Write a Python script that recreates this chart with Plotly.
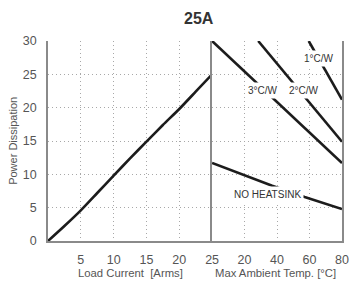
import plotly.graph_objects as go

# Left panel: power dissipation vs load current
load_current = [0, 2.5, 5, 7.5, 10, 12.5, 15, 17.5, 20, 22.5, 25]
power_diss = [0, 2.25, 4.6, 7.2, 9.8, 12.4, 14.9, 17.4, 19.8, 22.4, 25.0]

# Right panel: derating lines vs max ambient temperature
temp_3cw = [0, 80]
pow_3cw = [30, 11.7]
temp_2cw = [28.4, 80]
pow_2cw = [30, 14.9]
temp_1cw = [59.5, 80]
pow_1cw = [30, 21.2]
temp_nohs = [0, 37, 57, 80]
pow_nohs = [11.7, 8.3, 6.6, 4.8]

left_ticks = [5, 10, 15, 20, 25]
right_ticks = [20, 40, 60, 80]
y_ticks = [0, 5, 10, 15, 20, 25, 30]

FONT = "Liberation Sans, Arial, sans-serif"
LINE = "#1c1c1c"
AX = "#8a8a8a"
GRID = "#a8a8a8"
TICKC = "#555555"
DOT = "1px,3px"

fig = go.Figure()
fig.add_trace(go.Scatter(x=load_current, y=power_diss, mode="lines",
                         line=dict(color=LINE, width=2.6, shape="spline", smoothing=0.6),
                         xaxis="x", yaxis="y", showlegend=False, hoverinfo="skip"))
for tx, py in [(temp_3cw, pow_3cw), (temp_2cw, pow_2cw), (temp_1cw, pow_1cw), (temp_nohs, pow_nohs)]:
    fig.add_trace(go.Scatter(x=tx, y=py, mode="lines",
                             line=dict(color=LINE, width=2.6), xaxis="x2", yaxis="y2",
                             showlegend=False, hoverinfo="skip"))

split = (216 - 48) / (349 - 48)

common_y = dict(range=[0, 30], tickvals=y_ticks, showgrid=True, gridcolor=GRID,
                griddash=DOT, gridwidth=1, zeroline=False)

fig.update_layout(
    width=355, height=286,
    margin=dict(l=48, r=6, t=41, b=45),
    paper_bgcolor="white", plot_bgcolor="white",
    font=dict(family=FONT, color=TICKC, size=12.5),
    xaxis=dict(domain=[0, split], range=[0, 25], tickvals=left_ticks,
               showgrid=True, gridcolor=GRID, griddash=DOT, gridwidth=1,
               zeroline=False, showline=True, linecolor=AX, linewidth=1.5,
               ticks="", ticklabelstandoff=6, anchor="y"),
    yaxis=dict(domain=[0, 1], showline=True, linecolor=AX, linewidth=1.5,
               ticks="", ticklabelstandoff=7, anchor="x", **common_y),
    xaxis2=dict(domain=[split, 1], range=[0, 80], tickvals=right_ticks,
                showgrid=True, gridcolor=GRID, griddash=DOT, gridwidth=1,
                zeroline=False, showline=True, linecolor=AX, linewidth=1.5,
                ticks="", ticklabelstandoff=6, anchor="y2"),
    yaxis2=dict(domain=[0, 1], showline=True, linecolor=AX, linewidth=1.5,
                mirror=True, showticklabels=False, ticks="", anchor="x2",
                **common_y),
)

fig.add_annotation(text="<b>25A</b>", xref="paper", yref="paper",
                   x=(203 - 48) / 301, y=1 + (41 - 18) / 200, showarrow=False,
                   font=dict(size=16, color="#333333", family=FONT),
                   xanchor="center", yanchor="middle")
fig.add_annotation(text="Power Dissipation", xref="paper", yref="paper",
                   x=(12 - 48) / 301, y=(241 - 141) / 200, textangle=-90,
                   showarrow=False, font=dict(size=11, color="#555555", family=FONT),
                   xanchor="center", yanchor="middle")
fig.add_annotation(text="Load Current  [Arms]", xref="paper", yref="paper",
                   x=(132 - 48) / 301, y=(241 - 273) / 200, showarrow=False,
                   font=dict(size=11.3, color="#555555", family=FONT),
                   xanchor="center", yanchor="middle")
fig.add_annotation(text="Max Ambient Temp. [°C]", xref="paper", yref="paper",
                   x=(281 - 48) / 301, y=(241 - 273) / 200, showarrow=False,
                   font=dict(size=11.3, color="#555555", family=FONT),
                   xanchor="center", yanchor="middle")

labels = [("3°C/W", 31.3, 22.6), ("2°C/W", 56.5, 22.6),
          ("1°C/W", 65.9, 27.4), ("NO HEATSINK", 34.3, 7.05)]
for txt, lx, ly in labels:
    fig.add_annotation(text=txt, xref="x2", yref="y2", x=lx, y=ly, showarrow=False,
                       font=dict(size=10, color="#333333", family=FONT),
                       bgcolor="white", borderpad=2,
                       xanchor="center", yanchor="middle")

fig.write_html("out.html",
               config={"responsive": False, "displayModeBar": False},
               post_script="document.body.style.margin='0';"
                           "document.body.style.overflow='hidden';")
